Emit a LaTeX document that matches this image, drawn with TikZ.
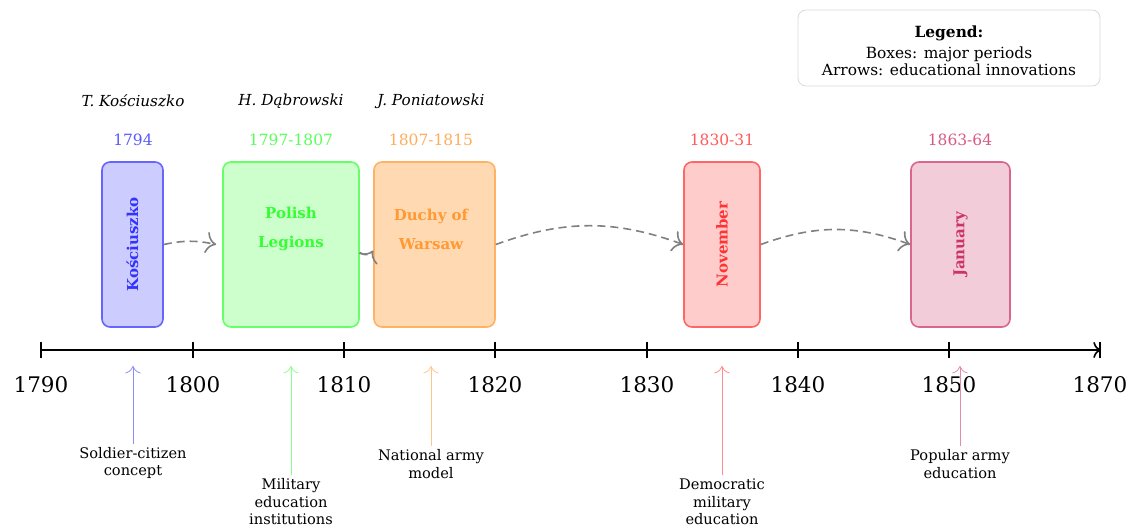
\documentclass[tikz,border=0pt]{standalone}
\usepackage{fontspec}
\setmainfont{DejaVu Serif}
\usetikzlibrary{arrows.meta}
\begin{document}
\begin{tikzpicture}[x=1pt,y=-1pt,
  period/.style={draw=#1!60, fill=#1!20, line width=1.6pt, rounded corners=8pt, inner sep=0pt},
  ptext/.style={text=#1!80, font=\fontsize{15}{29}\selectfont\bfseries, align=center},
  yearlab/.style={text=#1!65, font=\fontsize{15.5}{17}\selectfont},
  person/.style={font=\fontsize{15.2}{17}\selectfont\itshape},
  influence/.style={draw=black!50, dashed, dash pattern=on 8pt off 5pt, line width=1.6pt, -{To[scale=2,round]}},
  innov/.style={draw=#1!45, line width=0.8pt, -{To[scale=2.2]}},
  innovtext/.style={font=\fontsize{14.6}{17.5}\selectfont, align=center},
  axislab/.style={font=\fontsize{21.5}{25}\selectfont},
]
\useasboundingbox (0,0) rectangle (1136,529);

% axis
\coordinate (axs) at (41,350);
\coordinate (axe) at (1101,350);
\draw[line width=1.6pt, -{To[scale=1.5]}] (axs) -- (axe);
\foreach \x/\lab in {41/1790,193/1800,344/1810,495/1820,647/1830,798/1840,949/1850,1100/1870}{
  \draw[line width=1.6pt] (\x,342) -- (\x,358);
  \node[axislab] (y\lab) at (\x,385) {\lab};
}

% boxes
\node[period=blue, minimum width=61pt, minimum height=165pt] (kos) at (132.5,244.5) {};
\node[ptext=blue, rotate=90] (kost) at (kos.center) {Kościuszko};
\node[period=green, minimum width=136pt, minimum height=165pt] (leg) at (291,244.5) {};
\node[ptext=green] (legt) at (291,229) {Polish\\Legions};
\node[period=orange, fill=orange!30, minimum width=121pt, minimum height=165pt] (duc) at (434.5,244.5) {};
\node[ptext=orange] (duct) at (431,229) {Duchy of\\Warsaw};
\node[period=red, minimum width=76pt, minimum height=165pt] (nov) at (722,244.5) {};
\node[ptext=red, rotate=90] (novt) at (nov.center) {November};
\node[period=purple, minimum width=99pt, minimum height=165pt] (jan) at (960.5,244.5) {};
\node[ptext=purple, rotate=90] (jant) at (jan.center) {January};

% years above
\node[yearlab=blue] (d1) at (133,140) {1794};
\node[yearlab=green] (d2) at (291,140) {1797-1807};
\node[yearlab=orange] (d3) at (431,140) {1807-1815};
\node[yearlab=red] (d4) at (722,140) {1830-31};
\node[yearlab=purple] (d5) at (960,140) {1863-64};

% persons
\node[person] (p1) at (133,101) {T. Kościuszko};
\node[person] (p2) at (291,101) {H. Dąbrowski};
\node[person] (p3) at (431,101) {J. Poniatowski};

% influence arrows
\draw[influence] (kos.east) to[bend left=12] ([xshift=-6pt]leg.west);
\draw[influence] ([yshift=-8pt]leg.east) to[bend right=50] ([yshift=-6pt]duc.west);
\draw[influence] (duc.east) to[bend left=20] (nov.west);
\draw[influence] (nov.east) to[bend left=20] (jan.west);

% innovations
\node[innovtext] (i1) at (133,463) {Soldier-citizen\\concept};
\node[innovtext] (i2) at (291,502) {Military\\education\\institutions};
\node[innovtext] (i3) at (431,464) {National army\\model};
\node[innovtext] (i4) at (722,502) {Democratic\\military\\education};
\node[innovtext] (i5) at (960,464) {Popular army\\education};
\coordinate (a1) at (133,366);
\coordinate (a2) at (291,366);
\coordinate (a3) at (431,366);
\coordinate (a4) at (722,366);
\coordinate (a5) at (960,366);
\draw[innov=blue] (i1.north) -- (a1);
\draw[innov=green] (i2.north) -- (a2);
\draw[innov=orange] (i3.north) -- (a3);
\draw[innov=red] (i4.north) -- (a4);
\draw[innov=purple] (i5.north) -- (a5);

% legend
\node[draw=black!15, fill=white, rounded corners=8pt, line width=0.8pt, minimum width=302pt, minimum height=76pt] (legbox) at (949,48) {};
\node[font=\fontsize{15.4}{17}\selectfont, align=center] (legt) at (949,51) {\textbf{Legend:}\\[4pt]Boxes: major periods\\Arrows: educational innovations};
\end{tikzpicture}
\end{document}
